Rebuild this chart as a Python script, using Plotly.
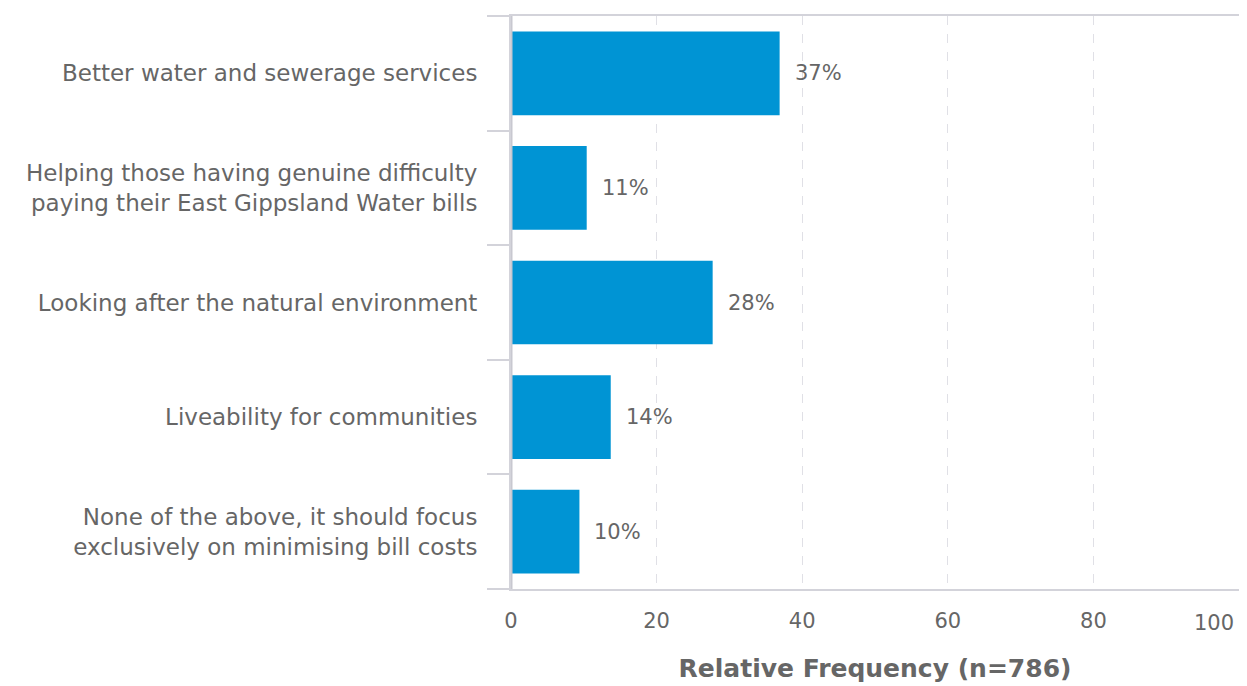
import plotly.graph_objects as go

categories = [
    "Better water and sewerage services",
    "Helping those having genuine difficulty<br>paying their East Gippsland Water bills",
    "Looking after the natural environment",
    "Liveability for communities",
    "None of the above, it should focus<br>exclusively on minimising bill costs",
]
values = [36.9, 10.4, 27.7, 13.7, 9.4]
labels = ["37%", "11%", "28%", "14%", "10%"]
x_ticks = [0, 20, 40, 60, 80]

grey_text = "#666666"
font_family = "DejaVu Sans, Verdana, sans-serif"

fig = go.Figure()

fig.add_trace(go.Bar(
    x=values,
    y=categories,
    orientation='h',
    marker=dict(color='#0094d4', line=dict(width=0)),
    hoverinfo='x+y',
))

for cat, val, lab in zip(categories, values, labels):
    fig.add_annotation(
        x=val, y=cat, text=lab, showarrow=False,
        xanchor='left', yanchor='middle', xshift=13,
        font=dict(size=21, color=grey_text, family=font_family),
    )

# last tick label kept inside the frame, as in the original
fig.add_annotation(
    x=100, y=0, xref='x', yref='paper', text='100', showarrow=False,
    xanchor='right', yanchor='top', yshift=-20, xshift=-3,
    font=dict(size=21, color=grey_text, family=font_family),
)

# page has an 8px body margin, so the figure is sized to fit the window
fig.update_layout(
    width=1239,
    height=678,
    margin=dict(l=503, r=7, t=6, b=97),
    paper_bgcolor='white',
    plot_bgcolor='white',
    bargap=0.27,
    showlegend=False,
    font=dict(family=font_family, size=21, color=grey_text),
    xaxis=dict(
        range=[0, 100],
        tickvals=x_ticks,
        tickfont=dict(size=21, color=grey_text),
        showgrid=True,
        gridcolor='#e0e0e6',
        griddash='dash',
        gridwidth=1,
        zeroline=False,
        showline=True,
        linecolor='#d3d3da',
        linewidth=2,
        mirror=True,
        ticks='',
        ticklabelstandoff=12,
        title=dict(
            text='<b>Relative Frequency (n=786)</b>',
            font=dict(size=25, color=grey_text),
            standoff=27,
        ),
        fixedrange=True,
    ),
    yaxis=dict(
        categoryorder='array',
        categoryarray=categories[::-1],
        tickson='boundaries',
        ticks='outside',
        ticklen=22,
        tickwidth=2,
        tickcolor='#d3d3da',
        tickfont=dict(size=23, color=grey_text),
        showline=True,
        linecolor='#d3d3da',
        linewidth=2,
        mirror=True,
        showgrid=False,
        ticklabelstandoff=27,
        fixedrange=True,
    ),
)

fig.add_shape(
    type='line', xref='x', yref='paper',
    x0=0, x1=0, y0=0, y1=1,
    line=dict(color='#c8c8d0', width=3),
)

fig.write_html("out.html")
